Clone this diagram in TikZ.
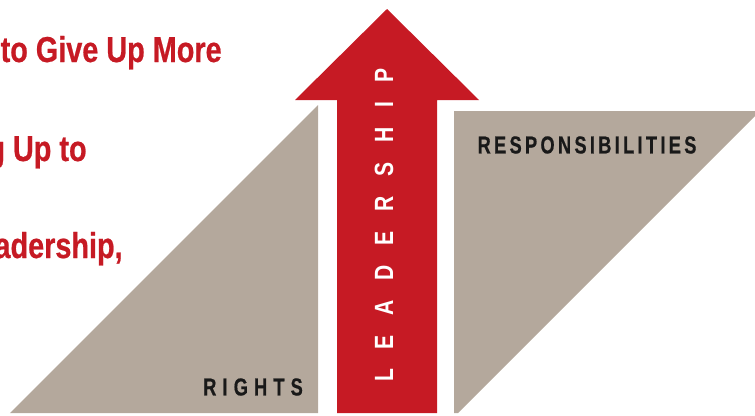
\documentclass[tikz,border=0pt]{standalone}
\usepackage{fontspec}
\setmainfont{Liberation Sans}
\newfontfamily\headfont[FakeStretch=0.8,FakeBold=0.6]{Liberation Sans}
\newfontfamily\labelfont[FakeStretch=0.74,LetterSpace=13.5,FakeBold=0.5]{Liberation Sans}
\newfontfamily\rightsfont[FakeStretch=0.74,LetterSpace=25,FakeBold=0.5]{Liberation Sans}
\newfontfamily\arrowfont[FakeStretch=0.8,LetterSpace=75]{Liberation Sans}
\definecolor{leadred}{RGB}{198,26,36}
\definecolor{sidegray}{RGB}{180,168,156}
\tikzset{
  redline/.style={font=\headfont\bfseries\fontsize{20.5}{24}\selectfont, text=leadred, inner sep=0pt},
  sidelabel/.style={font=\labelfont\bfseries\fontsize{14}{16}\selectfont, text=black!90, inner sep=0pt},
  arrowlabel/.style={font=\arrowfont\bfseries\fontsize{15}{17}\selectfont, text=white, inner sep=0pt, rotate=90},
}
\begin{document}
\begin{tikzpicture}
    % the page frame
    \useasboundingbox (0,0) rectangle (15.1,8.3);
    \clip (0,0) rectangle (15.1,8.3);
    % the rights triangle
    \fill[sidegray] (0.2,0.04) -- (6.36,6.2) -- (6.36,0.04) -- cycle;
    % the responsibilities block
    \fill[sidegray] (9.08,6.08) -- (15.2,6.08) -- (9.16,0.04) -- (9.08,0.04) -- cycle;
    % the leadership arrow
    \fill[leadred] (6.74,0.04) -- (6.74,6.3) -- (5.9,6.3) -- (7.74,8.12)
        -- (9.58,6.3) -- (8.74,6.3) -- (8.74,0.04) -- cycle;
    \node[arrowlabel] (leadership) at (7.68,3.8) {LEADERSHIP};
    % the side labels
    \node[sidelabel, font=\rightsfont\bfseries\fontsize{14}{16}\selectfont] (rights) at (5.06,0.56) {RIGHTS};
    \node[sidelabel] (responsibilities) at (11.74,5.4) {RESPONSIBILITIES};
    % the cut-off red text on the left
    \node[redline, anchor=base east] (give-up) at (4.44,7.06) {to Give Up More};
    \node[redline, anchor=base east] (up-to) at (1.74,5.08) {g Up to};
    \node[redline, anchor=base east] (leadership-text) at (2.46,3.14) {adership,};
\end{tikzpicture}
\end{document}
